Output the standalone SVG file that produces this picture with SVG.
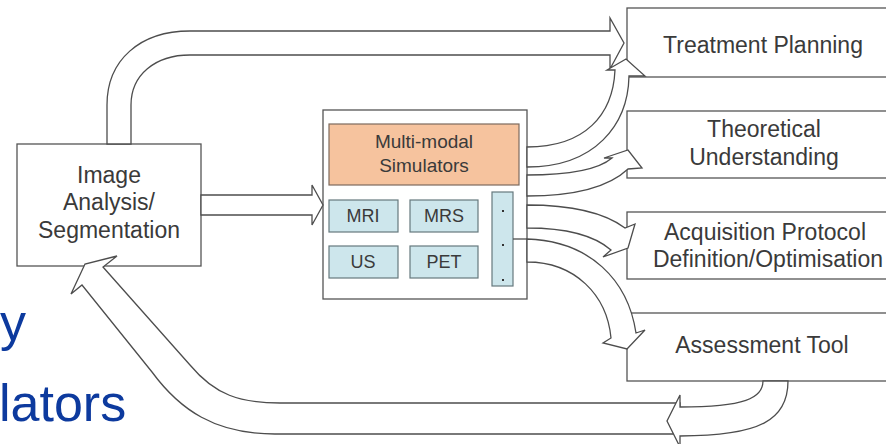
<svg xmlns="http://www.w3.org/2000/svg" width="886" height="444" viewBox="0 0 886 444">
<style>
.box{fill:#fff;stroke:#555;stroke-width:1.3}
.sim{fill:#f6c39e;stroke:#7d6a5e;stroke-width:1.2}
.mod{fill:#cde6ec;stroke:#66797e;stroke-width:1.2}
.arr{fill:#fff;stroke:#4d4d4d;stroke-width:1.3;stroke-linejoin:miter}
.lbl{font-family:"Liberation Sans",Arial,sans-serif;font-size:23px;fill:#3a3a3a;text-anchor:middle}
.sm{font-size:19px}
.md{font-size:18px}
.title{font-family:"Liberation Sans",Arial,sans-serif;font-size:52px;fill:#0d3a9e}
</style>
<rect width="886" height="444" fill="#fff"/>
<text class="title" x="0" y="340">y</text>
<text class="title" x="-1" y="421">lators</text>

<g id="image-analysis">
<rect class="box" x="17" y="144" width="184" height="122"/>
<text class="lbl" x="109" y="183">Image</text>
<text class="lbl" x="109" y="210">Analysis/</text>
<text class="lbl" x="109" y="238">Segmentation</text>
</g>

<g id="simulators">
<rect class="box" x="323" y="110" width="204" height="189"/>
<rect class="sim" x="329" y="124" width="190" height="61"/>
<text class="lbl sm" x="424" y="148">Multi-modal</text>
<text class="lbl sm" x="424" y="172">Simulators</text>
<g id="mri"><rect class="mod" x="329" y="200" width="69" height="32"/><text class="lbl md" x="363" y="222">MRI</text></g>
<g id="mrs"><rect class="mod" x="410" y="200" width="68" height="32"/><text class="lbl md" x="444" y="222">MRS</text></g>
<g id="us"><rect class="mod" x="329" y="246" width="69" height="32"/><text class="lbl md" x="363" y="268">US</text></g>
<g id="pet"><rect class="mod" x="410" y="246" width="68" height="32"/><text class="lbl md" x="444" y="268">PET</text></g>
<g id="more">
<rect class="mod" x="492" y="192" width="21" height="94"/>
<rect x="502" y="210" width="2" height="2" fill="#333"/>
<rect x="502" y="244" width="2" height="2" fill="#333"/>
<rect x="502" y="279" width="2" height="2" fill="#333"/>
</g>
</g>

<g id="treatment-planning">
<rect class="box" x="627" y="8" width="270" height="69"/>
<text class="lbl" x="763" y="53">Treatment Planning</text>
</g>
<g id="theoretical-understanding">
<rect class="box" x="627" y="111" width="270" height="67"/>
<text class="lbl" x="764" y="137">Theoretical</text>
<text class="lbl" x="764" y="165">Understanding</text>
</g>
<g id="acquisition-protocol">
<rect class="box" x="627" y="212" width="270" height="67"/>
<text class="lbl" x="765" y="240">Acquisition Protocol</text>
<text class="lbl" x="768" y="267">Definition/Optimisation</text>
</g>
<g id="assessment-tool">
<rect class="box" x="627" y="313" width="270" height="68"/>
<text class="lbl" x="762" y="353">Assessment Tool</text>
</g>

<g id="connectors">
<path class="arr" d="M107,144 L107,105 C107,60 140,31 190,31 L610,31 L610,18 L624,43 L610,69 L610,55 L190,55 C155,55 131,75 131,105 L131,144 Z"/>
<path class="arr" d="M201,195 L312,195 L312,185 L323,205 L312,225 L312,215 L201,215 Z"/>
<path class="arr" d="M527,147 C585,147 613,115 615,70 L607,70 L626,59 L645,76 L629,76 C628,125 595,167 527,167 Z"/>
<path class="arr" d="M527,175 C570,175 598,170 612,158 L604,158 L628,150 L642,168 L628,169 C610,186 580,196 527,196 Z"/>
<path class="arr" d="M527,205 C570,205 605,213 625,228 L635,224 L628,248 L603,257 L611,250 C595,236 570,228 527,228 Z"/>
<path class="arr" d="M527,239 C590,241 628,280 636,333 L645,330 L627,349 L603,343 L611,338 C607,295 575,262 527,262 Z"/>
<line x1="513" y1="239" x2="527" y2="239" stroke="#4d4d4d" stroke-width="1.3"/>
<path class="arr" d="M680,403 L280,403 C240,403 215,395 190,365 L103,267 L117,256 L85,264 L71,294 L82,285 L152,372 C180,410 215,434 275,434 L680,434 Z"/>
<path class="arr" d="M763,381 C763,398 745,407 680,407 L680,395 L667,421 L680,447 L680,436 C760,436 788,420 788,381 Z"/>
</g>
</svg>
